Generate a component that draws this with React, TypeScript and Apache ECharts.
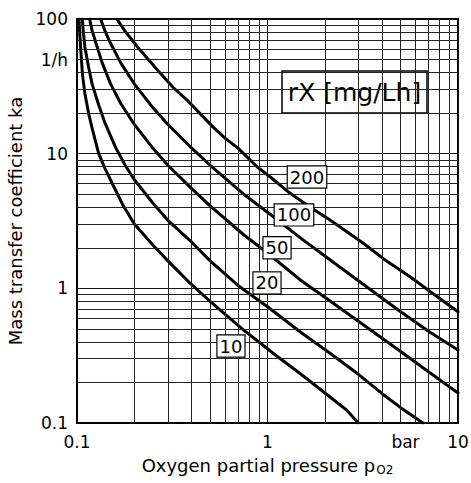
import React, { useEffect, useRef } from "react";
import * as echarts from "echarts";

// rX levels [mg/Lh] labelling the curves
const RX_LEVELS = ["10", "20", "50", "100", "200"];

// Curves: [oxygen partial pressure (bar), ka (1/h)]
const CURVE_10: [number, number][] = [
  [0.1025, 100], [0.1035, 75], [0.105, 55], [0.107, 38], [0.11, 28], [0.115, 20],
  [0.12, 15.5], [0.13, 10], [0.14, 7.8], [0.155, 5.8], [0.175, 4.1], [0.2, 3.0],
  [0.25, 2.1], [0.3, 1.6], [0.39, 1.1], [0.5, 0.8], [0.6, 0.64], [0.75, 0.49],
  [0.88, 0.41], [1.1, 0.32], [1.5, 0.23], [2.13, 0.156], [2.6, 0.125], [3.0, 0.1],
];
const CURVE_20: [number, number][] = [
  [0.1066, 100], [0.108, 80], [0.11, 62], [0.115, 44], [0.12, 33], [0.13, 23],
  [0.14, 17], [0.16, 11], [0.18, 8.1], [0.2, 6.4], [0.25, 4.3], [0.3, 3.2],
  [0.4, 2.2], [0.5, 1.6], [0.7, 1.05], [1.0, 0.73], [1.5, 0.47], [2.13, 0.33],
  [3, 0.23], [4, 0.165], [5, 0.13], [6.55, 0.1],
];
const CURVE_50: [number, number][] = [
  [0.1165, 100], [0.12, 82], [0.125, 68], [0.135, 48], [0.15, 33], [0.17, 23.5],
  [0.2, 16.5], [0.25, 11], [0.3, 8.2], [0.4, 5.5], [0.5, 4.1], [0.75, 2.5],
  [1.0, 1.83], [1.48, 1.16], [2, 0.86], [3, 0.57], [5, 0.34], [7, 0.24], [10, 0.167],
];
const CURVE_100: [number, number][] = [
  [0.133, 100], [0.14, 82], [0.15, 66], [0.17, 47], [0.2, 33], [0.25, 22],
  [0.3, 16.5], [0.4, 11], [0.5, 8.2], [0.75, 5.0], [1, 3.67], [1.5, 2.35],
  [2, 1.74], [3, 1.14], [5, 0.67], [7, 0.48], [10, 0.349],
];
const CURVE_200: [number, number][] = [
  [0.162, 100], [0.18, 80], [0.214, 59], [0.24, 49], [0.273, 39.7], [0.32, 31],
  [0.378, 25], [0.44, 20], [0.517, 15.8], [0.6, 13], [0.7, 11], [0.881, 8.0],
  [1.05, 6.6], [1.31, 5.1], [1.7, 3.95], [2.13, 3.22], [3.17, 2.17], [4.2, 1.6],
  [5.6, 1.22], [7.5, 0.9], [10, 0.67],
];
const CURVES = [CURVE_10, CURVE_20, CURVE_50, CURVE_100, CURVE_200];

// where each curve's rX label box sits (data coordinates)
const LABEL_ANCHORS: [number, number][] = [
  [0.643, 0.373], [0.994, 1.097], [1.122, 2.0], [1.377, 3.51], [1.612, 6.71],
];

// axes
const X_MIN = 0.1, X_MAX = 10, Y_MIN = 0.1, Y_MAX = 100;
const X_MINOR = [0.2, 0.3, 0.4, 0.5, 0.6, 0.7, 0.8, 0.9, 2, 3, 4, 5, 6, 7, 8, 9];
const Y_MINOR = [0.2, 0.3, 0.4, 0.5, 0.6, 0.7, 0.8, 0.9, 2, 3, 4, 5, 6, 7, 8, 9,
  20, 30, 40, 50, 60, 70, 80, 90];
const X_UNIT = "bar";
const X_UNIT_AT = 5.3;
const Y_UNIT = "1/h";
const Y_UNIT_AT = 50;
const X_TITLE = "Oxygen partial pressure p";
const X_TITLE_SUB = "O2";
const Y_TITLE = "Mass transfer coefficient ka";
const LEGEND_TITLE = "rX [mg/Lh]";

const FONT = "DejaVu Sans";
const fmt = (v: number) => String(parseFloat(Number(v).toPrecision(6)));

export default function App() {
  const ref = useRef<HTMLDivElement>(null);
  useEffect(() => {
    if (!ref.current) return;
    const chart = echarts.init(ref.current, undefined, { renderer: "svg" });
    const option: any = {
      animation: false,
      backgroundColor: "#fff",
      textStyle: { fontFamily: FONT, color: "#000" },
      grid: {
        left: 77, top: 19, width: 381, height: 404,
        show: true, borderColor: "#000", borderWidth: 2,
        containLabel: false, outerBoundsMode: "none",
      },
      xAxis: {
        type: "log", logBase: 10, min: X_MIN, max: X_MAX,
        axisLine: { show: true, lineStyle: { color: "#000", width: 2 } },
        axisTick: { show: false },
        splitLine: { show: true, lineStyle: { color: "#111", width: 1 } },
        axisLabel: { margin: 10, color: "#000", fontSize: 17, fontFamily: FONT, formatter: fmt },
        name: `${X_TITLE}{sub|${X_TITLE_SUB}}`,
        nameLocation: "middle", nameGap: 32,
        nameTextStyle: {
          fontSize: 18, color: "#000", fontFamily: FONT,
          rich: { sub: { fontSize: 12, fontFamily: FONT, color: "#000", padding: [9, 0, 0, 1], verticalAlign: "bottom" } },
        },
      },
      yAxis: {
        type: "log", logBase: 10, min: Y_MIN, max: Y_MAX,
        axisLine: { show: true, lineStyle: { color: "#000", width: 2 } },
        axisTick: { show: false },
        splitLine: { show: true, lineStyle: { color: "#111", width: 1 } },
        axisLabel: { margin: 9, color: "#000", fontSize: 17, fontFamily: FONT, formatter: fmt },
        name: Y_TITLE, nameLocation: "middle", nameGap: 47,
        nameTextStyle: { fontSize: 18, color: "#000", fontFamily: FONT },
      },
      series: [
        {
          type: "line", data: [], z: 1, silent: true,
          markLine: {
            silent: true, symbol: ["none", "none"], animation: false,
            label: { show: false },
            lineStyle: { color: "#222", width: 1, type: "solid" },
            emphasis: { disabled: true },
            data: [
              ...X_MINOR.map((v) => ({ xAxis: v })),
              ...Y_MINOR.map((v) => ({ yAxis: v })),
            ],
          },
        },
        ...CURVES.map((d, i) => ({
          name: RX_LEVELS[i], type: "line", data: d, z: 3,
          symbol: "none", showSymbol: false, smooth: false,
          lineStyle: { color: "#000", width: 3, join: "round", cap: "round" }, silent: true,
        })),
        {
          type: "scatter", z: 5, silent: true,
          data: LABEL_ANCHORS,
          symbol: "circle", symbolSize: 0, itemStyle: { color: "#000", opacity: 1 },
          emphasis: { disabled: true },
          label: {
            show: true, position: "inside", opacity: 1,
            formatter: (p: any) => RX_LEVELS[p.dataIndex],
            color: "#000", fontSize: 18, fontFamily: FONT,
            textBorderWidth: 0, textBorderColor: "transparent",
            backgroundColor: "#fff", borderColor: "#000", borderWidth: 1.2,
            padding: [2, 2, 1, 2],
          },
        },
      ],
    };
    chart.setOption(option);
    const bp = chart.convertToPixel({ gridIndex: 0 } as any, [X_UNIT_AT, Y_MIN]) as number[];
    const hp = chart.convertToPixel({ gridIndex: 0 } as any, [X_MIN, Y_UNIT_AT]) as number[];
    chart.setOption({
      graphic: [
        {
          type: "text", x: bp[0], y: bp[1] + 10, silent: true,
          style: { text: X_UNIT, fill: "#000", font: `17px "${FONT}"`, align: "center", verticalAlign: "top", textAlign: "center", textVerticalAlign: "top" },
        },
        {
          type: "text", x: hp[0] - 9, y: hp[1], silent: true,
          style: { text: Y_UNIT, fill: "#000", font: `17px "${FONT}"`, align: "right", verticalAlign: "middle", textAlign: "right", textVerticalAlign: "middle" },
        },
        {
          type: "group", silent: true, z: 100,
          children: [
            { type: "rect", shape: { x: 282, y: 71, width: 145, height: 42 }, style: { fill: "#fff", stroke: "#000", lineWidth: 1.5 } },
            {
              type: "text", x: 354.5, y: 92,
              style: { text: LEGEND_TITLE, fill: "#000", font: `25px "${FONT}"`, align: "center", verticalAlign: "middle", textAlign: "center", textVerticalAlign: "middle" },
            },
          ],
        },
      ],
    });
    return () => chart.dispose();
  }, []);
  return <div ref={ref} style={{ position: "absolute", left: 0, top: 0, width: 471, height: 483 }} />;
}
